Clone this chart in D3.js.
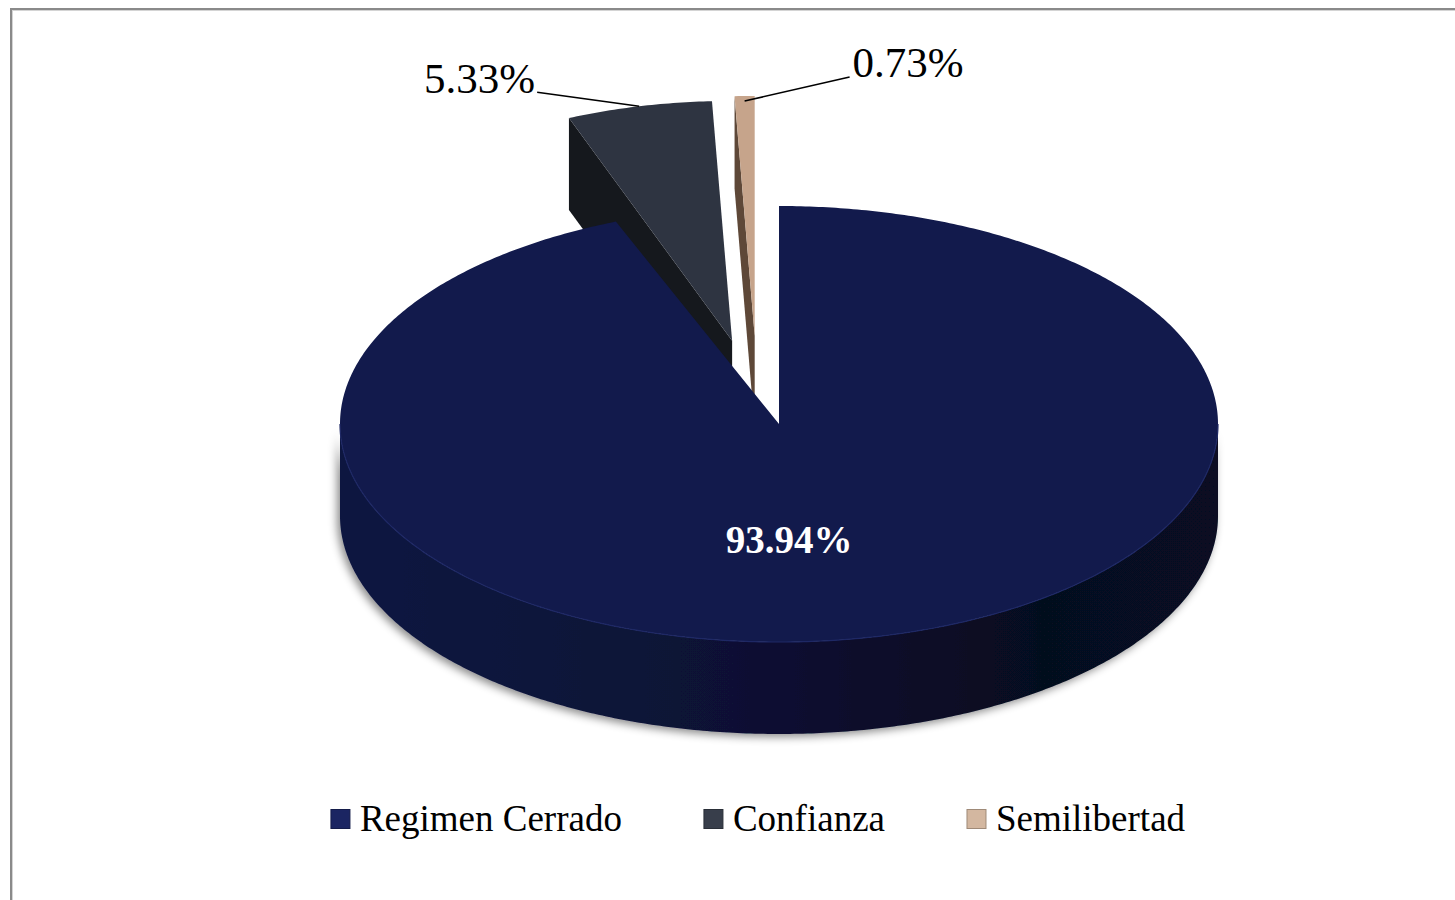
<!DOCTYPE html>
<html>
<head>
<meta charset="utf-8">
<script src="https://cdn.jsdelivr.net/npm/d3@7"></script>
<style>
  body { margin: 0; background: #fff; }
  svg { display: block; }
</style>
</head>
<body>
<div id="chart"></div>
<script>
// Données du graphique
const categories = ["Regimen Cerrado", "Confianza", "Semilibertad"];
const values = [93.94, 5.33, 0.73];
const valueLabels = ["93.94%", "5.33%", "0.73%"];

// Couleurs (face supérieure, faces latérales, légende)
const topColors = ["#121a4c", "#2e3441", "#c6a48b"];
const sideColors = ["#0b1032", "#15181d", "#5e4838"];
const legendColors = ["#1b2562", "#383e4b", "#d3b7a0"];

const width = 1455, height = 900;
const svg = d3.select("#chart").append("svg")
    .attr("width", width)
    .attr("height", height);

// Cadre gris
svg.append("rect")
    .attr("x", 11).attr("y", 9)
    .attr("width", 1600).attr("height", 1200)
    .attr("fill", "none")
    .attr("stroke", "#8a8a8a")
    .attr("stroke-width", 2);
svg.append("rect")
    .attr("x", 12.5).attr("y", 10.5)
    .attr("width", 1600).attr("height", 1200)
    .attr("fill", "none")
    .attr("stroke", "#d4d4d4")
    .attr("stroke-width", 1);

const defs = svg.append("defs");

// Dégradé pour le flanc du grand secteur
const wallGrad = defs.append("linearGradient")
    .attr("id", "wall0")
    .attr("gradientUnits", "userSpaceOnUse")
    .attr("x1", 340).attr("x2", 1218).attr("y1", 0).attr("y2", 0);
wallGrad.append("stop").attr("offset", "0%").attr("stop-color", "#111841");
wallGrad.append("stop").attr("offset", "45%").attr("stop-color", "#0c1134");
wallGrad.append("stop").attr("offset", "80%").attr("stop-color", "#060a1f");
wallGrad.append("stop").attr("offset", "100%").attr("stop-color", "#070b22");

const shadow = defs.append("filter")
    .attr("id", "shadow")
    .attr("x", "-10%").attr("y", "-10%").attr("width", "120%").attr("height", "130%");
shadow.append("feDropShadow")
    .attr("dx", -3).attr("dy", 3)
    .attr("stdDeviation", 4)
    .attr("flood-color", "#000")
    .attr("flood-opacity", 0.45);

// Géométrie du camembert 3D
const cx = 779, cy = 424, rx = 439, ry = 218, depth = 92;
const explodeX = 124, explodeY = 90, explodeTurn = 10 * Math.PI / 180;
// les secteurs éclatés (à l'arrière) paraissent un peu plus inclinés
const backTilt = 1.1;

const pie = d3.pie().sort(null).value(d => d)(values);

pie.forEach(d => {
    const mid = (d.startAngle + d.endAngle) / 2;
    if (d.index === 0) {
        d.ox = 0; d.oy = 0; d.ry = ry;
    } else {
        d.ox = explodeX * Math.sin(mid - explodeTurn);
        d.oy = -explodeY * Math.cos(mid - explodeTurn);
        d.ry = ry * backTilt;
    }
    d.mid = mid;
});

function pt(d, a, dz) {
    return [cx + d.ox + rx * Math.sin(a), cy + d.oy - d.ry * Math.cos(a) + dz];
}
function arcPoints(d, a0, a1, dz) {
    const n = Math.max(2, Math.ceil(Math.abs(a1 - a0) / 0.01));
    return d3.range(n + 1).map(i => pt(d, a0 + (a1 - a0) * i / n, dz));
}
const line = d3.line();

const chart = svg.append("g");

// Dessine de l'arrière vers l'avant : secteurs éclatés puis grand secteur
const order = pie.slice().sort((a, b) => a.oy - b.oy);

order.forEach(d => {
    const g = chart.append("g").attr("class", "slice");
    const c0 = [cx + d.ox, cy + d.oy];

    // Flanc extérieur visible (moitié avant)
    const w0 = Math.max(d.startAngle, Math.PI / 2);
    const w1 = Math.min(d.endAngle, 3 * Math.PI / 2);
    if (w1 > w0) {
        const pts = arcPoints(d, w0, w1, 0).concat(arcPoints(d, w1, w0, depth));
        g.append("path")
            .attr("d", line(pts) + "Z")
            .attr("fill", d.index === 0 ? "url(#wall0)" : sideColors[d.index])
            .attr("filter", "url(#shadow)");
    }

    // Faces de coupe radiales
    if (Math.sin(d.startAngle) < -1e-6) {
        const a = d.startAngle;
        const pts = [c0, pt(d, a, 0), pt(d, a, depth), [c0[0], c0[1] + depth]];
        g.append("path").attr("d", line(pts) + "Z").attr("fill", sideColors[d.index]);
    }
    if (Math.sin(d.endAngle) > 1e-6) {
        const a = d.endAngle;
        const pts = [c0, pt(d, a, 0), pt(d, a, depth), [c0[0], c0[1] + depth]];
        g.append("path").attr("d", line(pts) + "Z").attr("fill", sideColors[d.index]);
    }

    // Face supérieure
    const top = [c0].concat(arcPoints(d, d.startAngle, d.endAngle, 0));
    g.append("path")
        .attr("d", line(top) + "Z")
        .attr("fill", topColors[d.index]);

    // Liseré clair sur le bord avant
    if (w1 > w0) {
        g.append("path")
            .attr("d", line(arcPoints(d, w0, w1, 0)))
            .attr("fill", "none")
            .attr("stroke", "#1e2865")
            .attr("stroke-width", 1.2);
    }
});

// Étiquettes de valeurs
const labelFont = "'Liberation Serif', 'Times New Roman', serif";
pie.forEach(d => {
    if (d.index === 0) {
        svg.append("text")
            .attr("x", 789).attr("y", 553)
            .attr("text-anchor", "middle")
            .attr("font-family", labelFont)
            .attr("font-weight", "bold")
            .attr("font-size", 39)
            .attr("fill", "#ffffff")
            .text(valueLabels[d.index]);
        return;
    }
    const anchor = pt(d, d.mid, 0);
    const left = d.index === 1;
    if (!left) anchor[1] += 5;
    const elbow = left ? [anchor[0] - 102, anchor[1] - 14] : [anchor[0] + 105, anchor[1] - 24];
    svg.append("path")
        .attr("d", line([anchor, elbow]))
        .attr("fill", "none")
        .attr("stroke", "#000")
        .attr("stroke-width", 1.6);
    svg.append("text")
        .attr("x", left ? elbow[0] - 2 : elbow[0] + 3)
        .attr("y", left ? elbow[1] + 1 : elbow[1])
        .attr("text-anchor", left ? "end" : "start")
        .attr("font-family", labelFont)
        .attr("font-size", 43)
        .attr("fill", "#000")
        .text(valueLabels[d.index]);
});

// Légende
const legend = svg.append("g").attr("class", "legend");
const sq = 19, textGap = 10, entryGap = 82;
const items = categories.map((c, i) => {
    const g = legend.append("g");
    g.append("rect")
        .attr("width", sq).attr("height", sq)
        .attr("y", -sq / 2)
        .attr("fill", legendColors[i])
        .attr("stroke", d3.color(legendColors[i]).darker(0.8))
        .attr("stroke-width", 1);
    const t = g.append("text")
        .attr("x", sq + textGap)
        .attr("y", 12)
        .attr("font-family", labelFont)
        .attr("font-size", 37)
        .attr("fill", "#000")
        .text(c);
    return { g, w: sq + textGap + t.node().getComputedTextLength() };
});
const total = d3.sum(items, d => d.w) + entryGap * (items.length - 1);
let x0 = 758 - total / 2;
items.forEach(it => {
    it.g.attr("transform", `translate(${x0},819)`);
    x0 += it.w + entryGap;
});
</script>
</body>
</html>
